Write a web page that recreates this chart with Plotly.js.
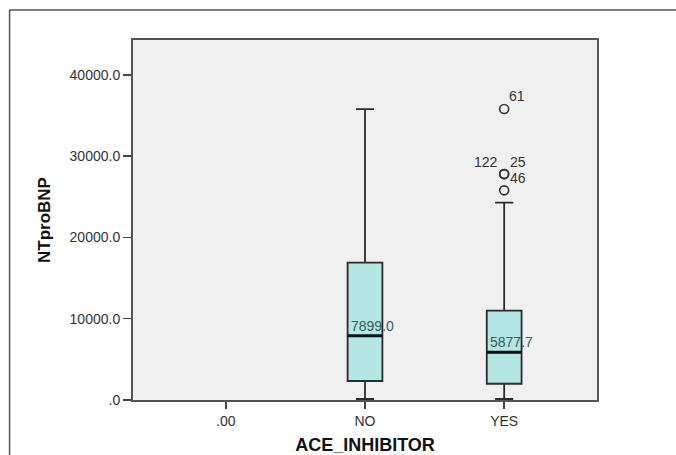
<!DOCTYPE html>
<html>
<head>
<meta charset="utf-8">
<script src="https://cdn.plot.ly/plotly-3.0.1.min.js"></script>
<style>
  html, body { margin: 0; padding: 0; background: #ffffff; }
  #chart { width: 676px; height: 455px; }
</style>
</head>
<body>
<div id="chart"></div>
<script>
// ---- data ----
var categories = ['.00', 'NO', 'YES'];
var boxGroups = ['NO', 'YES'];
var q1Values = [2340, 2000];
var medianValues = [7899.0, 5877.7];
var q3Values = [16900, 11000];
var lowerFences = [120, 120];
var upperFences = [35800, 24300];
var medianLabels = ['7899.0', '5877.7'];

var outlierGroup = ['YES', 'YES', 'YES', 'YES'];
var outlierValues = [35800, 27800, 27800, 25800];
var outlierIds = ['61', '122', '25', '46'];

var yTickValues = [0, 10000, 20000, 30000, 40000];
var yTickLabels = ['.0', '10000.0', '20000.0', '30000.0', '40000.0'];

// ---- styling ----
var FONT = 'Arial, "Liberation Sans", sans-serif';
var boxWidth = 0.25;

var traces = [];
boxGroups.forEach(function (g, i) {
  traces.push({
    type: 'box',
    name: g,
    x: [g],
    q1: [q1Values[i]],
    median: [medianValues[i]],
    q3: [q3Values[i]],
    lowerfence: [lowerFences[i]],
    upperfence: [upperFences[i]],
    width: boxWidth,
    whiskerwidth: 0.52,
    fillcolor: '#b4e6e4',
    line: { color: '#2b2b2b', width: 1.8 },
    boxpoints: false,
    hoverinfo: 'skip',
    showlegend: false
  });
});

traces.push({
  type: 'scatter',
  mode: 'markers',
  x: outlierGroup,
  y: outlierValues,
  marker: { symbol: 'circle-open', size: 9, color: '#333333', line: { width: 1.6, color: '#333333' } },
  hoverinfo: 'skip',
  showlegend: false
});

// median emphasis lines and labels, derived from the data arrays
var shapes = [];
var annotations = [];
boxGroups.forEach(function (g, i) {
  var idx = categories.indexOf(g);
  shapes.push({
    type: 'line', xref: 'x', yref: 'y',
    x0: idx - boxWidth / 2, x1: idx + boxWidth / 2,
    y0: medianValues[i], y1: medianValues[i],
    line: { color: '#111111', width: 3 }
  });
  annotations.push({
    x: g, y: medianValues[i], xref: 'x', yref: 'y',
    text: medianLabels[i], showarrow: false,
    xanchor: 'center', yanchor: 'bottom',
    xshift: 7, yshift: 0,
    font: { family: FONT, size: 14, color: '#355a5a' }
  });
});

// outlier case labels (offsets in pixels)
var labelOffsets = [[13, 13], [-18, 12], [14, 12], [14, 12]];
outlierIds.forEach(function (id, i) {
  annotations.push({
    x: outlierGroup[i], y: outlierValues[i], xref: 'x', yref: 'y',
    text: id, showarrow: false,
    xanchor: 'center', yanchor: 'middle',
    xshift: labelOffsets[i][0], yshift: labelOffsets[i][1],
    font: { family: FONT, size: 14, color: '#333333' }
  });
});

// outer frame (top and left edges of the SPSS output window)
shapes.push({
  type: 'line', xref: 'paper', yref: 'paper', layer: 'below',
  x0: -0.266, x1: 1.3, y0: 1.083, y1: 1.083,
  line: { color: '#555555', width: 1.5 }
});
shapes.push({
  type: 'line', xref: 'paper', yref: 'paper', layer: 'below',
  x0: -0.266, x1: -0.266, y0: 1.083, y1: -0.3,
  line: { color: '#555555', width: 1.5 }
});

var layout = {
  width: 676,
  height: 455,
  margin: { l: 133, r: 79, t: 40, b: 55 },
  paper_bgcolor: '#ffffff',
  plot_bgcolor: '#f0f0f0',
  font: { family: FONT, size: 14, color: '#222222' },
  showlegend: false,
  xaxis: {
    type: 'category',
    categoryorder: 'array',
    categoryarray: categories,
    range: [-0.667, 2.667],
    showgrid: false,
    zeroline: false,
    showline: true,
    linecolor: '#555555',
    linewidth: 2,
    mirror: true,
    ticks: 'outside',
    ticklen: 7,
    tickwidth: 1.5,
    tickcolor: '#444444',
    tickfont: { family: FONT, size: 14, color: '#333333' },
    title: {
      text: 'ACE_INHIBITOR',
      font: { family: FONT, size: 18, color: '#111111', weight: 'bold' },
      standoff: 11
    },
    automargin: false,
    fixedrange: true
  },
  yaxis: {
    range: [0, 44300],
    tickvals: yTickValues,
    ticktext: yTickLabels,
    showgrid: false,
    zeroline: false,
    showline: true,
    linecolor: '#555555',
    linewidth: 2,
    mirror: true,
    ticks: 'outside',
    ticklen: 8,
    tickwidth: 1.5,
    tickcolor: '#444444',
    tickfont: { family: FONT, size: 14, color: '#333333' },
    title: {
      text: 'NTproBNP',
      font: { family: FONT, size: 17, color: '#111111', weight: 'bold' },
      standoff: 15
    },
    automargin: false,
    fixedrange: true
  },
  shapes: shapes,
  annotations: annotations
};

Plotly.newPlot('chart', traces, layout, { displayModeBar: false, staticPlot: true });
</script>
</body>
</html>
